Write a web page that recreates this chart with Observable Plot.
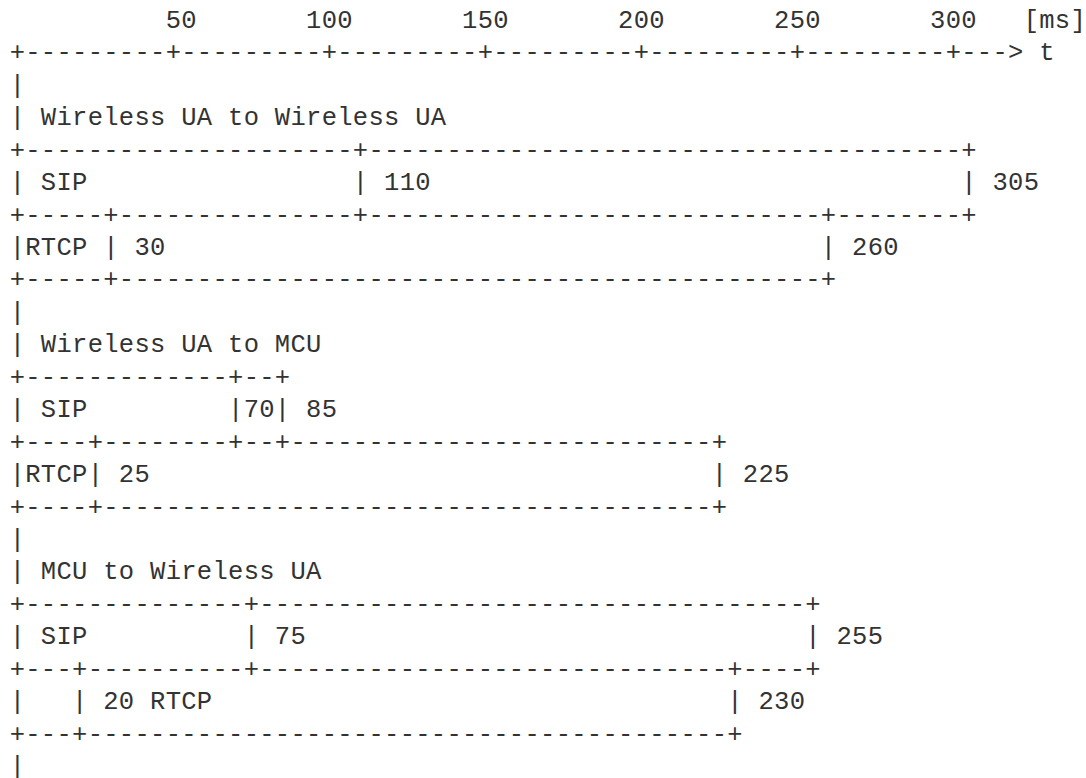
<!DOCTYPE html>
<html>
<head>
<meta charset="utf-8">
<script src="https://cdn.jsdelivr.net/npm/d3@7"></script>
<script src="https://cdn.jsdelivr.net/npm/@observablehq/plot@0.6"></script>
<style>
  html, body { margin: 0; padding: 0; background: #fff; overflow: hidden; }
  #chart svg { display: block; }
</style>
</head>
<body>
<div id="chart"></div>
<script>
// ---- data (milliseconds) ----
const axisTicks = [50, 100, 150, 200, 250, 300];
const axisUnit = "[ms]";
const axisName = "t";
const groups = ["Wireless UA to Wireless UA", "Wireless UA to MCU", "MCU to Wireless UA"];
const sipSplit = [110, 70, 75];     // SIP first segment end
const sipEnd = [305, 85, 255];      // SIP total
const rtcpStart = [30, 25, 20];     // RTCP first segment end
const rtcpEnd = [260, 225, 230];    // RTCP total

// ---- build the character grid from the data (one column = 5 ms) ----
const STEP = 5;
const col = ms => Math.round(ms / STEP);
const cells = [];
function put(row, c, str) {
  for (let i = 0; i < str.length; i++) {
    if (str[i] !== " ") cells.push({row, col: c + i, ch: str[i]});
  }
}
function border(row, stops) {
  const cs = new Set(stops.map(col));
  const end = d3.max(cs);
  for (let c = 0; c <= end; c++) put(row, c, cs.has(c) ? "+" : "-");
}

// axis
const arrowCol = col(d3.max(axisTicks)) + 4;
axisTicks.forEach(t => put(0, col(t) + 2 - String(t).length, String(t)));
put(0, arrowCol + 1, axisUnit);
{
  const cs = new Set([0, ...axisTicks].map(col));
  for (let c = 0; c < arrowCol; c++) put(1, c, cs.has(c) ? "+" : "-");
  put(1, arrowCol, ">");
  put(1, arrowCol + 2, axisName);
}

// groups
groups.forEach((title, g) => {
  const r = 2 + g * 7;
  put(r, 0, "|");
  put(r + 1, 0, "| " + title);
  border(r + 2, [0, sipSplit[g], sipEnd[g]]);
  // SIP row
  put(r + 3, 0, "| SIP");
  const a = col(sipSplit[g]), b = col(sipEnd[g]);
  if (b - a <= 3) { put(r + 3, a, "|"); put(r + 3, a + 1, String(sipSplit[g])); }
  else put(r + 3, a, "| " + sipSplit[g]);
  put(r + 3, b, "| " + sipEnd[g]);
  border(r + 4, [0, rtcpStart[g], sipSplit[g], rtcpEnd[g], sipEnd[g]]);
  // RTCP row
  const rc = col(rtcpStart[g]);
  put(r + 5, 0, "|");
  if (rc >= 5) { put(r + 5, 1, "RTCP"); put(r + 5, rc, "| " + rtcpStart[g]); }
  else put(r + 5, rc, "| " + rtcpStart[g] + " RTCP");
  put(r + 5, col(rtcpEnd[g]), "| " + rtcpEnd[g]);
  border(r + 6, [0, rtcpStart[g], rtcpEnd[g]]);
});
put(2 + groups.length * 7, 0, "|");

// ---- chart ----
const W = 1086, H = 778;
const chart = Plot.plot({
  width: W,
  height: H,
  margin: 0,
  style: {background: "#fff"},
  x: {domain: [-9 / 3.12, (W - 9) / 3.12], axis: null},
  y: {domain: [-19.3 / 32.44, (H - 19.3) / 32.44], reverse: true, axis: null},
  marks: [
    Plot.text(cells, {
      x: d => d.col * STEP + STEP / 2,
      y: "row",
      text: "ch",
      textAnchor: "middle",
      fontFamily: "Liberation Mono",
      fontSize: 25.5,
      fill: "#333"
    })
  ]
});
document.getElementById("chart").append(chart);
</script>
</body>
</html>
